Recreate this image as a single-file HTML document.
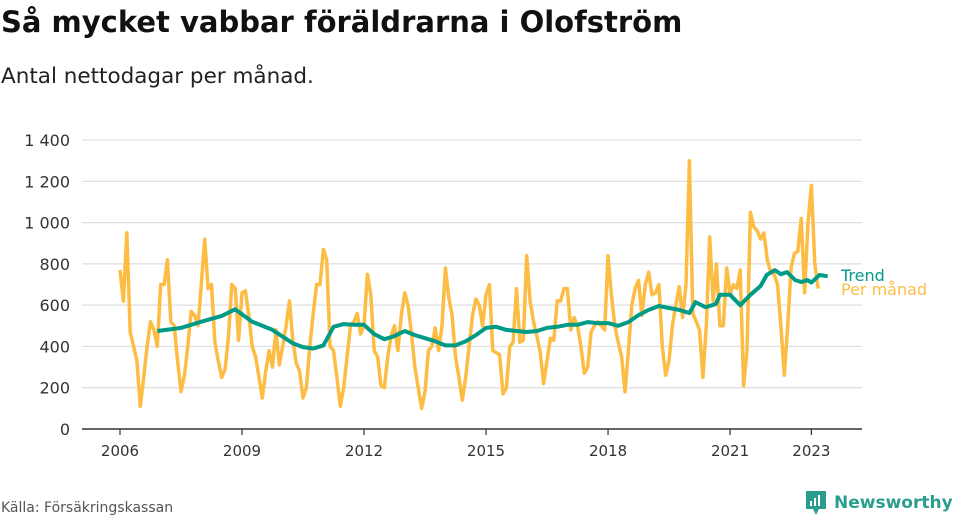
<!DOCTYPE html>
<html><head><meta charset="utf-8">
<style>
body{margin:0;width:960px;height:520px;background:#fff;font-family:"DejaVu Sans","Liberation Sans",sans-serif;overflow:hidden;position:relative}
#title{position:absolute;left:1px;top:5px;font-size:29px;font-weight:bold;color:#111;white-space:nowrap}
#sub{position:absolute;left:1px;top:64px;font-size:21.5px;color:#222;white-space:nowrap}
#src{position:absolute;left:1px;top:500px;font-size:14px;color:#555}
#logo{position:absolute;left:804px;top:489px;display:flex;align-items:center}
#logo span{font-size:17px;color:#2a9d8f;font-weight:bold;margin-left:6px}
svg{position:absolute;left:0;top:0}
</style></head><body>
<div id="title">Så mycket vabbar föräldrarna i Olofström</div>
<div id="sub">Antal nettodagar per månad.</div>
<svg id="chart" width="960" height="520" style="font-family:'DejaVu Sans',sans-serif"></svg>
<div id="src">Källa: Försäkringskassan</div>
<div id="logo">
<svg width="24" height="28" style="position:static" viewBox="0 0 24 28"><path d="M2 2h20v18h-7l-3 6-3-6H2z" fill="#2a9d8f"/><rect x="6" y="12" width="2" height="5" fill="#fff"/><rect x="10" y="9" width="2" height="8" fill="#fff"/><rect x="14" y="6" width="2" height="11" fill="#fff"/></svg>
<span>Newsworthy</span></div>
<script>
const startYear = 2006;
const monthly = [
770,620,950,470,400,330,110,250,400,520,480,400,
700,700,820,520,500,330,180,260,400,570,550,500,
700,920,680,700,420,330,250,290,450,700,680,430,
660,670,550,400,350,250,150,280,380,300,480,310,
400,500,620,430,320,280,150,200,400,560,700,700,
870,820,400,380,250,110,200,350,500,520,560,460,
500,750,650,380,350,210,200,350,450,500,380,550,
660,600,460,300,200,100,180,380,400,490,380,500,
780,640,550,350,250,140,250,400,550,630,600,500,
650,700,380,370,360,170,200,400,420,680,420,430,
840,620,520,450,370,220,330,440,430,620,620,680,
680,480,540,500,400,270,300,470,500,520,500,480,
840,650,500,420,350,180,380,600,680,720,550,700,
760,650,660,700,400,260,330,500,600,690,540,700,
1300,560,520,480,250,500,930,620,800,500,500,780,
650,700,680,770,210,380,1050,980,960,920,950,820,
760,750,700,500,260,500,780,850,860,1020,660,1000,
1180,800,680];
const trendT = [2006.92,2007.5,2008,2008.5,2008.83,2009.25,2009.75,2010.25,2010.5,2010.75,2011,2011.25,2011.5,2011.75,2012,2012.25,2012.5,2012.75,2013,2013.25,2013.5,2013.75,2014,2014.25,2014.5,2014.75,2015,2015.25,2015.5,2015.75,2016,2016.25,2016.5,2016.75,2017,2017.25,2017.5,2017.75,2018,2018.25,2018.5,2018.75,2019,2019.25,2019.5,2019.75,2020,2020.15,2020.4,2020.65,2020.75,2021,2021.25,2021.5,2021.75,2021.9,2022.1,2022.25,2022.4,2022.6,2022.75,2022.9,2023,2023.2,2023.4];
const trendV = [475,490,520,548,580,520,480,415,397,390,405,495,508,505,505,460,435,450,475,455,440,425,405,405,425,455,490,495,480,475,470,475,490,495,505,505,518,513,513,500,518,552,577,596,586,577,562,615,590,605,650,650,600,650,693,746,770,750,760,722,712,722,710,746,740];
const yTicks = [0,200,400,600,800,1000,1200,1400];
const yLabels = ["0","200","400","600","800","1 000","1 200","1 400"];
const xTicks = [2006,2009,2012,2015,2018,2021,2023];

const svg = document.getElementById('chart');
const NS = 'http://www.w3.org/2000/svg';
const X = t => 120 + (t - 2006) * 40.67;
const Y = v => 429 - v * 0.2064;
function mk(tag, attrs){const e=document.createElementNS(NS,tag);for(const k in attrs)e.setAttribute(k,attrs[k]);svg.appendChild(e);return e;}
yTicks.forEach((v,i)=>{
  const g = mk('line',{x1:82,x2:862,y1:Y(v),y2:Y(v),stroke:v===0?'#333':'#ddd','stroke-width':v===0?1.5:1.2});
  
  
  const t = mk('text',{x:70,y:Y(v)+6,'text-anchor':'end','font-size':16,fill:'#333'});
  t.textContent = yLabels[i];
  
  
});
xTicks.forEach(y=>{
  const l = mk('line',{x1:X(y),x2:X(y),y1:429,y2:435,stroke:'#333','stroke-width':1.2});
  
  
  const t = mk('text',{x:X(y),y:456,'text-anchor':'middle','font-size':15,fill:'#333'});
  t.textContent = y;
  
  
});
const mp = monthly.map((v,i)=>X(startYear + i/12).toFixed(1)+','+Y(v).toFixed(1)).join(' ');
const ml = mk('polyline',{points:mp,fill:'none',stroke:'#fdbd45','stroke-width':3.5,'stroke-linejoin':'round'});


const tp = trendV.map((v,i)=>X(trendT[i]).toFixed(1)+','+Y(v).toFixed(1)).join(' ');
const tl = mk('polyline',{points:tp,fill:'none',stroke:'#009b86','stroke-width':4,'stroke-linejoin':'round'});


const l1 = mk('text',{x:841,y:281,'font-size':16,fill:'#009b86'});
l1.textContent='Trend';


const l2 = mk('text',{x:841,y:295,'font-size':16,fill:'#fdbd45'});
l2.textContent='Per månad';


</script>
</body></html>
